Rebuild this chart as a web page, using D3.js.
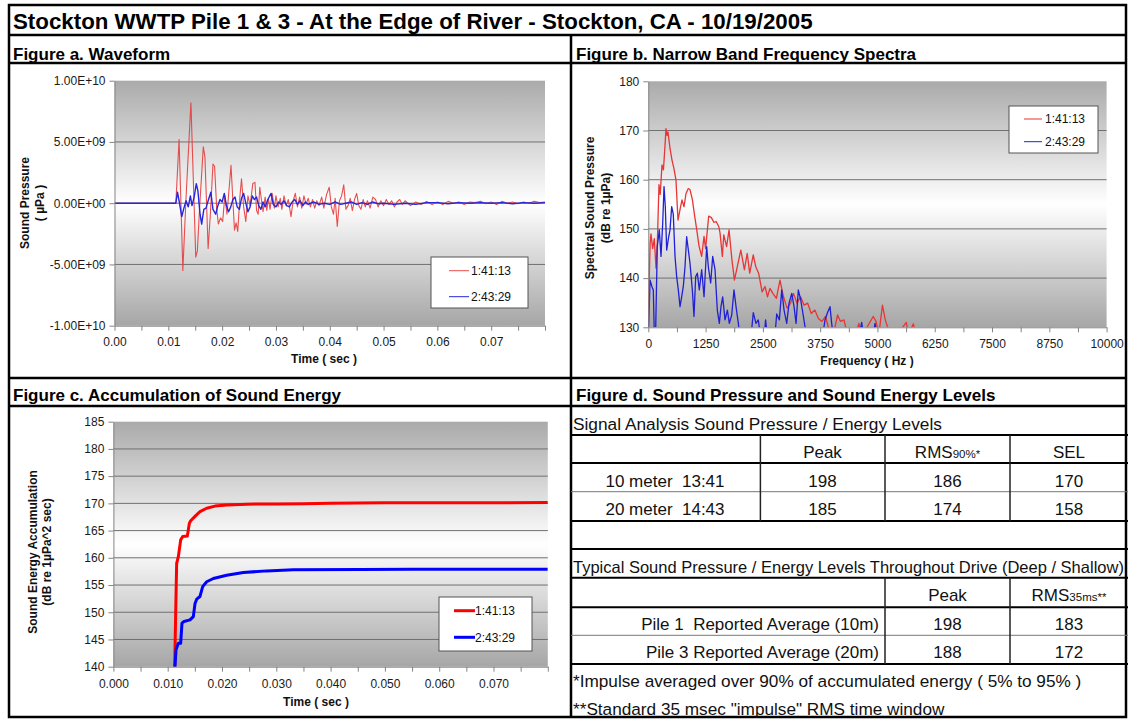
<!DOCTYPE html>
<html><head><meta charset="utf-8">
<script src="https://cdn.jsdelivr.net/npm/d3@7"></script>
<style>
body{margin:0;background:#fff;}
svg text{font-family:"Liberation Sans",Arial,Helvetica,sans-serif;}
</style></head><body>
<svg id="chart" width="1128" height="719"></svg>
<script>
// ---------------- DATA ----------------
const mainTitle = "Stockton WWTP Pile 1 & 3 - At the Edge of River - Stockton, CA - 10/19/2005";
const panelTitles = ["Figure a. Waveform","Figure b. Narrow Band Frequency Spectra","Figure c. Accumulation of Sound Energy","Figure d. Sound Pressure and Sound Energy Levels"];
const seriesNames = ["1:41:13","2:43:29"];

// Figure a: waveform, time in ms, pressure in µPa
const waveRed = [[0,0],[11.4,0],[12.0,5.2e9],[12.7,-5.5e9],[13.3,0.5e9],[14.2,8.2e9],[15.1,-4.4e9],[15.4,-3.9e9],[15.8,-0.5e9],[16.5,4.6e9],[16.8,3.8e9],[17.4,-3.7e9],[17.8,-1.0e9],[18.3,3.2e9],[18.6,3.0e9],[19.0,-0.5e9],[19.3,-1.7e9],[19.7,-1.2e9],[20.1,-1.5e9],[20.5,0.6e9],[20.9,-0.9e9],[21.3,1.2e9],[21.65,3.1e9],[22.0,0.2e9],[22.3,-2.2e9],[22.6,-1.6e9],[22.9,-2.3e9],[23.3,0.5e9],[23.6,2.0e9],[24.0,-0.3e9],[24.4,-1.5e9],[24.8,0.6e9],[25.2,-0.2e9],[25.7,1.6e9],[26.1,1.7e9],[26.4,-0.6e9],[26.7,-0.9e9],[27.0,1.3e9],[27.3,0.3e9],[27.6,-0.7e9],[28.0,0.5e9],[28.3,-0.6e9],[28.6,0.4e9],[28.9,-0.5e9],[29.3,0.8e9],[29.7,-0.4e9],[30.0,0.6e9],[30.4,-0.3e9],[30.8,0.4e9],[31.1,-0.5e9],[31.5,0.6e9],[31.9,-0.2e9],[32.3,0.3e9],[32.8,-1.1e9],[33.2,0.2e9],[33.6,0.8e9],[34.0,-0.3e9],[34.4,0.5e9],[34.8,-0.4e9],[35.2,0.6e9],[35.6,-0.1e9],[36.0,0.4e9],[36.4,-0.3e9],[36.8,0.3e9],[37.2,-0.4e9],[37.6,0.2e9],[38.0,-0.2e9],[38.5,0.5e9],[38.9,-0.4e9],[39.4,0.7e9],[39.9,1.3e9],[40.3,-0.3e9],[40.7,-0.9e9],[41.0,0.4e9],[41.4,-1.9e9],[41.8,0.2e9],[42.2,0.6e9],[42.6,1.5e9],[43.0,-0.5e9],[43.4,-0.2e9],[43.8,0.4e9],[44.2,-0.6e9],[44.6,0.3e9],[45.0,0.8e9],[45.4,-0.2e9],[45.8,-0.5e9],[46.2,0.3e9],[46.6,-0.3e9],[47.0,0.2e9],[47.5,-0.4e9],[48.0,0.5e9],[48.5,0.3e9],[49.0,-0.3e9],[49.5,0.2e9],[50.0,-0.2e9],[50.5,0.3e9],[51.0,-0.1e9],[51.5,0.2e9],[52.0,-0.3e9],[52.5,0.1e9],[53.0,0.3e9],[53.5,-0.1e9],[54.0,0.2e9],[55,-0.2e9],[56,0.1e9],[57,-0.1e9],[58,0.15e9],[59,-0.1e9],[60,0.1e9],[61,-0.1e9],[62,0.15e9],[63,0],[64,0.1e9],[65,-0.1e9],[66,0.1e9],[67,0.05e9],[68,0.15e9],[69,-0.05e9],[70,0.1e9],[71,-0.1e9],[72,0.15e9],[73,0],[74,0.1e9],[75,-0.05e9],[76,0.1e9],[77,0],[78,0.15e9],[79,0.05e9],[80,0.1e9]];
const waveBlue = [[0,0],[11.4,0],[11.7,0.9e9],[12.0,0.2e9],[12.5,-1.1e9],[12.9,-0.4e9],[13.3,0.2e9],[13.7,-0.3e9],[14.1,0.6e9],[14.4,-0.2e9],[14.8,0.5e9],[15.2,1.6e9],[15.5,1.0e9],[15.9,-0.9e9],[16.2,-1.7e9],[16.6,-0.5e9],[17.0,-0.4e9],[17.4,0.2e9],[17.9,0.9e9],[18.3,-0.5e9],[18.8,-0.9e9],[19.2,-0.2e9],[19.6,0.3e9],[20.0,0.1e9],[20.4,0.8e9],[20.8,-0.2e9],[21.2,-0.7e9],[21.6,-0.3e9],[22.0,0.3e9],[22.4,0.5e9],[22.8,-0.3e9],[23.2,-0.5e9],[23.6,0.4e9],[24.0,0.8e9],[24.4,0],[24.8,-0.7e9],[25.2,-0.3e9],[25.6,0.6e9],[26.0,0.3e9],[26.4,0.5e9],[26.8,-0.2e9],[27.2,-0.5e9],[27.6,0.1e9],[28.0,-0.3e9],[28.5,0.3e9],[29.1,0.8e9],[29.5,-0.1e9],[30.0,-0.3e9],[30.5,0.1e9],[31.0,-0.1e9],[31.5,0.2e9],[32.0,-0.2e9],[32.5,-0.3e9],[33.0,0.1e9],[33.5,0.3e9],[34.0,-0.1e9],[34.5,0.2e9],[35.0,-0.2e9],[35.5,0.1e9],[36.0,-0.1e9],[36.5,0],[37.0,0.1e9],[38.0,-0.1e9],[39.0,0],[40.0,-0.1e9],[41.0,0.1e9],[42.0,-0.1e9],[43.0,0],[44.0,0.1e9],[45.0,-0.1e9],[46.0,0.05e9],[47,-0.1e9],[48,0.1e9],[49,-0.05e9],[50,0],[52,-0.1e9],[54,0],[56,-0.1e9],[58,0.05e9],[60,0.05e9],[62,-0.05e9],[64,0.05e9],[66,0],[68,0.05e9],[70,0],[72,0.05e9],[74,-0.05e9],[76,0.05e9],[78,0],[80,0.05e9]];
const waveYTicks = [-1e10,-5e9,0,5e9,1e10];
const waveYLabels = ["-1.00E+10","-5.00E+09","0.00E+00","5.00E+09","1.00E+10"];
const timeTicks = [0,10,20,30,40,50,60,70];
const waveXLabels = ["0.00","0.01","0.02","0.03","0.04","0.05","0.06","0.07"];

// Figure b: spectra, frequency Hz, level dB
const specRed = [[0,130],[15,138],[40,147],[59,149],[95,146],[131,148],[168,142],[200,148],[233,159],[260,157],[299,163],[330,162],[365,167],[386,170.4],[410,169],[430,169.7],[473,166.4],[517,164],[561,162.2],[604,159.9],[648,151.8],[692,153.9],[735,155.9],[779,154.5],[823,157.2],[873,158.2],[910,158],[961,156],[1012,152.6],[1056,149.9],[1107,146.5],[1165,144.4],[1216,148.5],[1250,146],[1318,152.6],[1376,152.3],[1434,151.3],[1480,151.5],[1537,150.5],[1565,149.2],[1616,144.4],[1646,148.8],[1708,146.4],[1762,149.8],[1825,143.7],[1879,139.6],[1941,142.3],[2019,145.7],[2096,141.7],[2158,145],[2213,141],[2290,144.7],[2345,142.3],[2407,141],[2484,137.2],[2547,138.3],[2601,136.2],[2655,137.9],[2717,136.9],[2795,135.9],[2873,139.6],[2950,136.2],[3028,133.9],[3106,134.9],[3168,136.9],[3245,134.9],[3323,136.2],[3400,134.5],[3478,134.9],[3556,132.8],[3634,133.5],[3711,131.8],[3789,131.2],[3866,132.2],[3944,129.5],[4037,128.5],[4130,132.5],[4193,131.2],[4270,131.5],[4332,129],[4500,128],[4596,130.8],[4650,128],[4907,132.2],[4969,131.2],[5030,128.5],[5109,134.5],[5171,131.5],[5241,129.5],[5400,128],[5629,131],[5680,128.5],[5784,130.7],[5850,128],[6000,127]];
const specBlue = [[0,128],[39,139.6],[78,138.3],[109,137.6],[130,129],[160,129],[196,146.4],[240,149.8],[277,144.4],[314,151.1],[343,158.6],[371,154.5],[401,145.7],[445,148.4],[474,149.8],[510,154.5],[545,153],[583,144.4],[619,140.3],[655,137.6],[692,134.2],[728,136.2],[764,138.3],[801,142.3],[837,148.4],[874,145.7],[910,143],[961,137.6],[997,132.2],[1034,140.3],[1070,141],[1113,137.6],[1165,141.7],[1216,136.2],[1274,146.4],[1310,142.3],[1361,139],[1405,144.4],[1456,141.7],[1506,133.5],[1550,130.8],[1586,134.2],[1623,136.2],[1674,131.5],[1725,133.5],[1768,130.8],[1820,132.5],[1870,137.6],[1914,134.2],[1965,130.8],[2000,128],[2240,128],[2291,133],[2349,130.8],[2400,131.5],[2450,128],[2530,128],[2559,131.5],[2600,128],[2760,128],[2802,132.7],[2860,131.5],[2911,137.6],[2962,133.5],[3020,130.8],[3071,134.9],[3130,136.9],[3180,134.2],[3224,130.8],[3273,137.6],[3325,135.6],[3384,132.2],[3430,129.5],[3480,128],[3800,128],[3856,131.5],[3907,132.9],[3965,134.2],[4001,130.8],[4040,128],[4600,128],[4656,131],[4700,128],[4900,128],[4947,130.8],[5000,128]];
const specYTicks = [130,140,150,160,170,180];
const specXTicks = [0,1250,2500,3750,5000,6250,7500,8750,10000];

// Figure c: accumulated energy, time in ms, dB
const selRed = [[11.2,130],[11.29,140],[11.47,149.8],[11.65,159],[11.96,160.2],[12.39,163.3],[12.76,163.9],[13.62,164],[13.98,166.3],[14.23,166.8],[15.03,167.6],[15.95,168.5],[17.18,169.1],[18.71,169.5],[20.86,169.7],[24.55,169.85],[30,169.9],[35,169.95],[40,170.0],[45,170.05],[50,170.1],[60,170.1],[70,170.1],[80,170.15]];
const selBlue = [[11.2,130],[11.34,140],[11.53,143.1],[11.96,144.3],[12.39,144.3],[12.63,148],[13.0,148.3],[14.11,148.6],[14.72,149.2],[15.03,151.6],[15.34,152.4],[15.95,152.9],[16.44,154.7],[17.18,155.6],[18.4,156.2],[20.86,156.8],[23.93,157.3],[28.23,157.6],[33.13,157.8],[45.41,157.85],[55,157.9],[80,157.9]];
const selYTicks = [140,145,150,155,160,165,170,175,180,185];
const selXLabels = ["0.000","0.010","0.020","0.030","0.040","0.050","0.060","0.070"];

// Figure d: tables
const sigTitle = "Signal Analysis Sound Pressure / Energy Levels";
const sigHeaders = [["",""],["Peak",""],["RMS","90%*"],["SEL",""]];
const sigRows = [["10 meter  13:41",198,186,170],["20 meter  14:43",185,174,158]];
const typTitle = "Typical Sound Pressure / Energy Levels Throughout Drive (Deep / Shallow)";
const typHeaders = [["Peak",""],["RMS","35ms**"]];
const typRows = [["Pile 1  Reported Average (10m)",198,183],["Pile 3 Reported Average (20m)",188,172]];
const footnotes = ["*Impulse averaged over 90% of accumulated energy ( 5% to 95% )","**Standard 35 msec \"impulse\" RMS time window"];

// ---------------- DRAWING ----------------
const FONT = '"Liberation Sans",Arial,Helvetica,sans-serif';
const svg = d3.select("#chart");
const defs = svg.append("defs");
const grad = defs.append("linearGradient").attr("id","bg").attr("x1",0).attr("y1",0).attr("x2",0).attr("y2",1);
[[0,"#aaaaaa"],[0.5,"#ffffff"],[1,"#a6a6a6"]].forEach(([o,c])=>grad.append("stop").attr("offset",o).attr("stop-color",c));

svg.append("rect").attr("width",1128).attr("height",719).attr("fill","#fff");

function panel(p){
  const x = d3.scaleLinear().domain(p.xDomain).range([p.left,p.right]);
  const y = d3.scaleLinear().domain(p.yDomain).range([p.bottom,p.top]);
  const g = svg.append("g");
  g.append("rect").attr("x",p.left).attr("y",p.top).attr("width",p.right-p.left).attr("height",p.bottom-p.top).attr("fill","url(#bg)");
  g.append("g").selectAll("line").data(p.grid).join("line")
    .attr("x1",p.left).attr("x2",p.right).attr("y1",d=>y(d)).attr("y2",d=>y(d))
    .attr("stroke","#707070").attr("stroke-width",1);
  const cid = "clip"+p.id;
  defs.append("clipPath").attr("id",cid).append("rect")
    .attr("x",p.left).attr("y",p.top-3).attr("width",p.right-p.left).attr("height",p.bottom-p.top+3);
  const line = d3.line().x(d=>x(d[0])).y(d=>y(d[1]));
  p.series.forEach(s=>{
    g.append("path").datum(s.data).attr("d",line).attr("fill","none")
      .attr("stroke",s.color).attr("stroke-width",s.width).attr("stroke-opacity",s.opacity||1)
      .attr("stroke-linejoin","round").attr("clip-path",`url(#${cid})`);
  });
  const ya = g.append("g").attr("transform",`translate(${p.left},0)`)
    .call(d3.axisLeft(y).tickValues(p.yTicks).tickFormat((d,i)=>p.yLabels[i]).tickSize(5).tickSizeOuter(0).tickPadding(4));
  const xa = g.append("g").attr("transform",`translate(0,${p.bottom})`)
    .call(d3.axisBottom(x).tickValues(p.xMinor).tickFormat("").tickSize(5).tickSizeOuter(0));
  const xl = g.append("g").attr("transform",`translate(0,${p.bottom})`)
    .call(d3.axisBottom(x).tickValues(p.xTicks).tickFormat((d,i)=>p.xLabels[i]).tickSize(0).tickPadding(p.xPad));
  xl.select(".domain").remove();
  [ya,xa,xl].forEach(a=>{
    a.attr("font-family",FONT).attr("font-size",12);
    a.selectAll(".domain,line").attr("stroke","#858585");
    a.selectAll("text").attr("fill","#1a1a1a");
  });
  p.yTitle.forEach((t,i)=>{
    g.append("text").attr("transform",`translate(${p.yTitleX[i]},${p.yTitleY}) rotate(-90)`)
      .attr("text-anchor","middle").attr("dy","0.35em").attr("font-size",12).attr("font-weight","bold").attr("fill","#111").text(t);
  });
  g.append("text").attr("x",p.xTitlePos[0]).attr("y",p.xTitlePos[1]).attr("dy","0.35em")
    .attr("text-anchor","middle").attr("font-size",12).attr("font-weight","bold").attr("fill","#111").text(p.xTitle);
  const L = p.legend;
  g.append("rect").attr("x",L.x).attr("y",L.y).attr("width",L.w).attr("height",L.h)
    .attr("fill","#fff").attr("stroke","#555").attr("stroke-width",1);
  p.series.forEach((s,i)=>{
    const ly = L.rows[i];
    g.append("line").attr("x1",L.lx1).attr("x2",L.lx2).attr("y1",ly).attr("y2",ly)
      .attr("stroke",s.color).attr("stroke-width",L.lw).attr("stroke-opacity",s.opacity||1);
    g.append("text").attr("x",L.tx).attr("y",ly).attr("dy","0.35em").attr("font-size",12).attr("fill","#111").text(seriesNames[i]);
  });
}

panel({
  id:"a", left:114.5, right:545, top:80.7, bottom:325.7,
  xDomain:[0,80], yDomain:[-1e10,1e10],
  grid:[-5e9,0,5e9], yTicks:waveYTicks, yLabels:waveYLabels,
  xMinor:d3.range(0,80.1,5), xTicks:timeTicks, xLabels:waveXLabels, xPad:12,
  series:[{data:waveRed,color:"#e63c3c",width:1.1,opacity:0.9},{data:waveBlue,color:"#2626dc",width:1.4}],
  yTitle:["Sound Pressure","( µPa )"], yTitleX:[25,40], yTitleY:203,
  xTitle:"Time ( sec )", xTitlePos:[324,359],
  legend:{x:431,y:257,w:97,h:51,lx1:449,lx2:469,tx:471,rows:[270.7,296.7],lw:1}
});

panel({
  id:"b", left:648.3, right:1106.6, top:81.3, bottom:327.3,
  xDomain:[0,10000], yDomain:[130,180],
  grid:[140,150,160,170], yTicks:specYTicks, yLabels:specYTicks.map(String),
  xMinor:d3.range(0,10001,625), xTicks:specXTicks, xLabels:specXTicks.map(String), xPad:12,
  series:[{data:specRed,color:"#e83535",width:1.3},{data:specBlue,color:"#2020d6",width:1.3}],
  yTitle:["Spectral Sound Pressure","(dB re 1µPa)"], yTitleX:[590,606], yTitleY:208,
  xTitle:"Frequency ( Hz )", xTitlePos:[867,361],
  legend:{x:1009,y:106,w:89,h:47,lx1:1024,lx2:1042,tx:1045,rows:[119,141.7],lw:1}
});

panel({
  id:"c", left:113.4, right:547.8, top:421.7, bottom:666.7,
  xDomain:[0,80], yDomain:[140,185],
  grid:[145,150,155,160,165,170,175,180], yTicks:selYTicks, yLabels:selYTicks.map(String),
  xMinor:d3.range(0,80.1,5), xTicks:timeTicks, xLabels:selXLabels, xPad:12.5,
  series:[{data:selRed,color:"#ff0000",width:3},{data:selBlue,color:"#0000ff",width:3}],
  yTitle:["Sound Energy Accumulation","(dB re 1µPa^2 sec)"], yTitleX:[33,47], yTitleY:552,
  xTitle:"Time ( sec )", xTitlePos:[316,702],
  legend:{x:439,y:597,w:93,h:54,lx1:454,lx2:475,tx:475,rows:[610.7,637.3],lw:3}
});

// ---- frame ----
const frame = svg.append("g").attr("stroke","#000").attr("fill","none");
frame.append("rect").attr("x",9).attr("y",5).attr("width",1117).attr("height",712).attr("stroke-width",2.5);
[[9,35,1127,35],[9,63,1127,63],[9,378,1127,378],[9,406,1127,406],[571,35,571,717]].forEach(l=>{
  frame.append("line").attr("x1",l[0]).attr("y1",l[1]).attr("x2",l[2]).attr("y2",l[3]).attr("stroke-width",2.5);
});

svg.append("text").attr("x",13).attr("y",29).attr("font-size",22.3).attr("font-weight","bold").attr("fill","#000").text(mainTitle);
[[13,59.5],[576,59.5],[13,401],[576,401]].forEach((p,i)=>{
  svg.append("text").attr("x",p[0]).attr("y",p[1]).attr("font-size",17).attr("font-weight","bold").attr("fill","#000").text(panelTitles[i]);
});

// ---- table ----
const T = svg.append("g").attr("font-size",17).attr("fill","#111");
const thick = [435,463,521,549,577.7,607.3,664];
const thin = [491.7,635.3];
thick.forEach(y=>T.append("line").attr("x1",571).attr("x2",1128).attr("y1",y).attr("y2",y).attr("stroke","#000").attr("stroke-width",2));
thin.forEach(y=>T.append("line").attr("x1",571).attr("x2",1128).attr("y1",y).attr("y2",y).attr("stroke","#777").attr("stroke-width",1));
[760.4,885,1010].forEach(x=>T.append("line").attr("x1",x).attr("x2",x).attr("y1",435).attr("y2",521).attr("stroke","#222").attr("stroke-width",1.5));
[885,1010].forEach(x=>T.append("line").attr("x1",x).attr("x2",x).attr("y1",577.7).attr("y2",664).attr("stroke","#222").attr("stroke-width",1.5));

T.append("text").attr("x",573).attr("y",430).attr("font-size",17.3).text(sigTitle);
const sigCx = [665,822.5,947.5,1069];
sigHeaders.forEach((h,i)=>{
  const t = T.append("text").attr("x",sigCx[i]).attr("y",458.3).attr("text-anchor","middle");
  t.append("tspan").text(h[0]);
  if(h[1]) t.append("tspan").attr("font-size",11.5).text(h[1]);
});
sigRows.forEach((r,ri)=>{
  r.forEach((v,ci)=>{
    T.append("text").attr("x",sigCx[ci]).attr("y",[486.7,515][ri]).attr("text-anchor","middle")
      .style("white-space","pre").text(String(v));
  });
});
T.append("text").attr("x",573).attr("y",572.7).attr("font-size",16.5).text(typTitle);
const typCx = [947.5,1069];
typHeaders.forEach((h,i)=>{
  const t = T.append("text").attr("x",typCx[i]).attr("y",600.7).attr("text-anchor","middle");
  t.append("tspan").text(h[0]);
  if(h[1]) t.append("tspan").attr("font-size",11.5).text(h[1]);
});
typRows.forEach((r,ri)=>{
  const yy=[630,658.3][ri];
  T.append("text").attr("x",879).attr("y",yy).attr("text-anchor","end").style("white-space","pre").text(r[0]);
  T.append("text").attr("x",typCx[0]).attr("y",yy).attr("text-anchor","middle").text(String(r[1]));
  T.append("text").attr("x",typCx[1]).attr("y",yy).attr("text-anchor","middle").text(String(r[2]));
});
footnotes.forEach((f,i)=>T.append("text").attr("x",573).attr("y",[687.3,715][i]).attr("font-size",17.2).text(f));
</script>
</body></html>
